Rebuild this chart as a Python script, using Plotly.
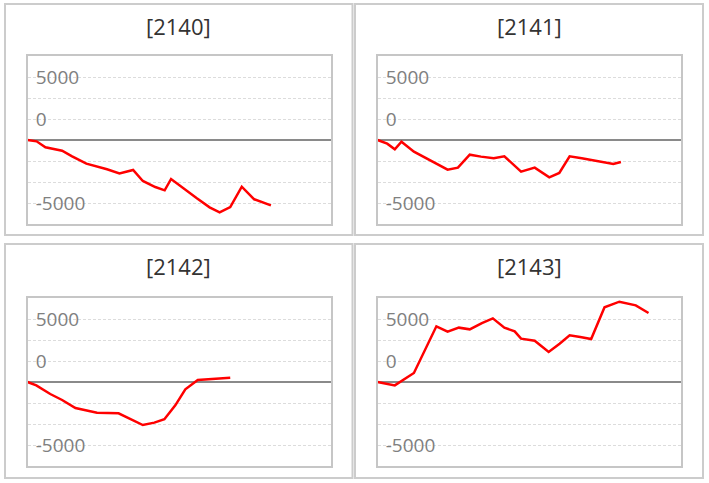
import plotly.graph_objects as go

W, H = 709, 483

titles = ["[2140]", "[2141]", "[2142]", "[2143]"]

x_2140 = [0, 3.0, 5.9, 11.4, 14.7, 19.4, 26.2, 30.3, 34.8, 38.0, 42.1, 45.2, 47.3, 50.3,
          55.8, 60.0, 63.3, 66.8, 70.6, 74.7, 80.2]
y_2140 = [0, -160, -870, -1270, -1940, -2820, -3490, -3970, -3570, -4880, -5600, -5990,
          -4640, -5480, -6940, -8020, -8610, -7980, -5560, -7060, -7780]

x_2141 = [0, 3.2, 5.7, 7.9, 12.0, 17.4, 23.1, 26.5, 30.4, 34.1, 38.3, 41.8, 47.3, 51.8,
          56.6, 59.9, 63.3, 67.3, 74.5, 77.7, 80.2]
y_2141 = [0, -440, -1110, -200, -1390, -2460, -3530, -3290, -1750, -1980, -2180, -1940,
          -3770, -3290, -4440, -3930, -1940, -2180, -2620, -2860, -2620]

x_2142 = [0, 2.9, 7.5, 11.4, 15.8, 22.9, 30.0, 34.1, 38.0, 41.8, 45.1, 48.7, 52.0, 56.1,
          61.3, 66.8]
y_2142 = [0, -400, -1430, -2140, -3100, -3650, -3730, -4480, -5120, -4840, -4440, -2780,
          -870, 240, 360, 520]

x_2143 = [0, 5.7, 12.0, 15.2, 19.4, 23.1, 26.8, 30.4, 34.4, 38.0, 41.8, 45.2, 47.3, 51.8,
          56.4, 60.0, 63.3, 66.8, 70.4, 74.8, 79.7, 85.1, 89.3]
y_2143 = [0, -400, 1070, 3530, 6630, 5990, 6470, 6270, 7020, 7580, 6470, 6030, 5160, 4920,
          3570, 4560, 5560, 5360, 5120, 8890, 9560, 9130, 8210]

series_x = [x_2140, x_2141, x_2142, x_2143]
series_y = [y_2140, y_2141, y_2142, y_2143]

y_tickvals = [-7500, -5000, -2500, 0, 2500, 5000, 7500]
y_ticktext = ["-5000", "", "", "", "0", "", "5000"]
y_range = [-10000, 10000]
x_range = [0, 100]

# panel geometry in pixels (left, top, right, bottom) of outer frames and inner plots
frames = [(5, 4, 352.5, 235), (355, 4, 703, 235), (5, 244, 352.5, 478), (355, 244, 703, 478)]
plots = [(27.5, 56, 331, 224), (377.5, 56, 681, 224), (27.5, 298, 331, 466), (377.5, 298, 681, 466)]
title_y = [26, 26, 266, 266]

fig = go.Figure()
shapes = []
annotations = []
for i in range(4):
    ax = "" if i == 0 else str(i + 1)
    l, t, r, b = plots[i]
    fig.add_trace(go.Scatter(x=series_x[i], y=series_y[i], mode="lines",
                             line=dict(color="#ff0000", width=2.5),
                             xaxis="x" + ax, yaxis="y" + ax, showlegend=False,
                             hoverinfo="skip"))
    fig.layout["xaxis" + ax] = dict(
        domain=[l / W, r / W], range=x_range, showgrid=False, zeroline=False,
        showticklabels=False, ticks="", showline=True, mirror=True,
        linecolor="#c6c6c6", linewidth=2, anchor="y" + ax, fixedrange=True)
    fig.layout["yaxis" + ax] = dict(
        domain=[1 - b / H, 1 - t / H], range=y_range, tickvals=y_tickvals,
        ticktext=y_ticktext, ticklabelposition="inside", ticks="",
        showgrid=True, gridcolor="#dcdcdc", griddash="3px,2px", gridwidth=1,
        zeroline=True, zerolinecolor="#8a8a8a", zerolinewidth=2,
        showline=True, mirror=True, linecolor="#c6c6c6", linewidth=2,
        tickfont=dict(family="Open Sans", size=19, color="#808080"),
        ticklabelstandoff=9, anchor="x" + ax, fixedrange=True)
    fl, ft, fr, fb = frames[i]
    shapes.append(dict(type="rect", xref="paper", yref="paper",
                       x0=fl / W, x1=fr / W, y0=1 - fb / H, y1=1 - ft / H,
                       line=dict(color="#cccccc", width=2), layer="below"))
    annotations.append(dict(text=titles[i], xref="paper", yref="paper",
                            x=(fl + fr) / 2 / W, y=1 - title_y[i] / H,
                            xanchor="center", yanchor="middle", showarrow=False,
                            font=dict(family="Open Sans", size=22, color="#333333")))

fig.update_layout(width=W, height=H, margin=dict(l=0, r=0, t=0, b=0),
                  paper_bgcolor="white", plot_bgcolor="white",
                  shapes=shapes, annotations=annotations)

fig.write_html("out.html", config={"displayModeBar": False},
               post_script="document.body.style.margin='0';document.body.style.overflow='hidden';")
